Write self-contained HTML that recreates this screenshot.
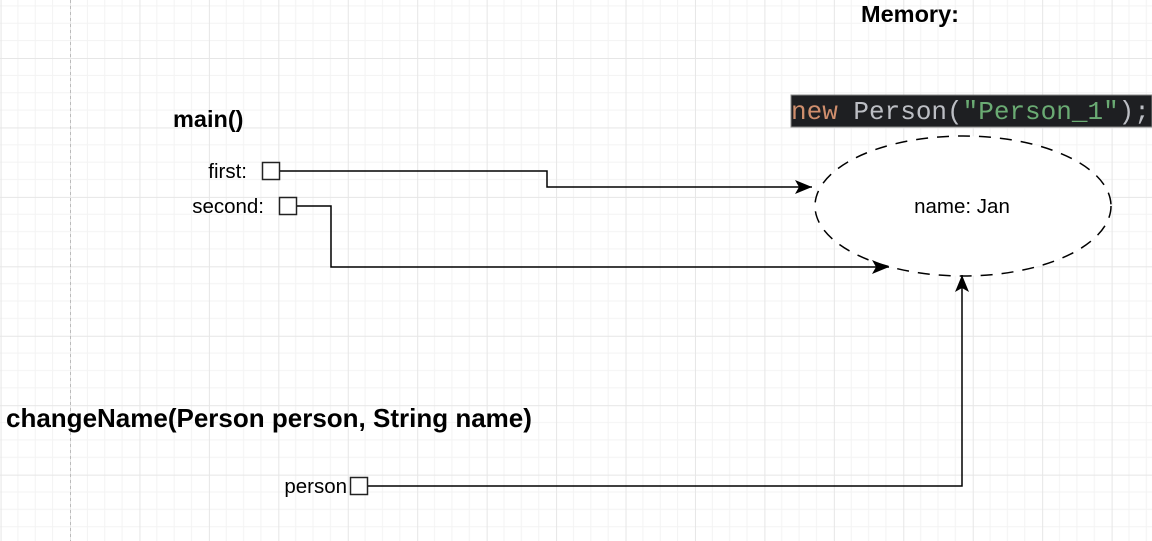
<!DOCTYPE html>
<html><head><style>
html,body{margin:0;padding:0;background:#fff;}
svg{display:block;}
</style></head><body>
<svg width="1152" height="541" viewBox="0 0 1152 541" xmlns="http://www.w3.org/2000/svg">
<defs>
<pattern id="g" x="70" y="58" width="69.44" height="69.44" patternUnits="userSpaceOnUse">
<path d="M17.36 0V69.44M34.72 0V69.44M52.08 0V69.44M0 17.36H69.44M0 34.72H69.44M0 52.08H69.44" stroke="#f3f3f3" stroke-width="1" fill="none"/>
<path d="M0.5 0V69.44M0 0.5H69.44" stroke="#e6e6e6" stroke-width="1" fill="none"/>
</pattern>
<marker id="a" markerWidth="18" markerHeight="14" refX="17" refY="7" orient="auto" markerUnits="userSpaceOnUse">
<path d="M0 0L17 7L0 14L4 7Z" fill="#000"/>
</marker>
</defs>
<rect width="1152" height="541" fill="url(#g)"/>
<line x1="70.5" y1="0" x2="70.5" y2="541" stroke="#bbb" stroke-dasharray="3,3"/>
<rect x="791" y="95" width="361" height="32" fill="#1e1f22" stroke="#888"/>
<text x="791" y="119" font-family="Liberation Mono, monospace" font-size="26" fill="#cf8e6d" xml:space="preserve">new <tspan fill="#bcbec4">Person(</tspan><tspan fill="#6aab73">"Person_1"</tspan><tspan fill="#bcbec4">);</tspan></text>
<ellipse cx="963" cy="206" rx="148" ry="70" fill="#fff" stroke="#000" stroke-width="1.5" stroke-dasharray="12,9"/>
<text x="962" y="213" text-anchor="middle" font-family="Liberation Sans, sans-serif" font-size="20.5">name: Jan</text>
<text x="910" y="22" text-anchor="middle" font-family="Liberation Sans, sans-serif" font-size="23.5" font-weight="bold">Memory:</text>
<text x="173" y="127" font-family="Liberation Sans, sans-serif" font-size="23.5" font-weight="bold">main()</text>
<text x="247" y="178" text-anchor="end" font-family="Liberation Sans, sans-serif" font-size="20.5">first:</text>
<text x="264" y="213" text-anchor="end" font-family="Liberation Sans, sans-serif" font-size="20.5">second:</text>
<text x="6" y="427" font-family="Liberation Sans, sans-serif" font-size="26" font-weight="bold">changeName(Person person, String name)</text>
<text x="347" y="493" text-anchor="end" font-family="Liberation Sans, sans-serif" font-size="20.5">person</text>
<g fill="none" stroke="#000" stroke-width="1.5">
<polyline points="280,171 547,171 547,187 812,187" marker-end="url(#a)"/>
<polyline points="297,206 331,206 331,267 889,267" marker-end="url(#a)"/>
<polyline points="367,486 962,486 962,275" marker-end="url(#a)"/>
</g>
<g fill="#fff" stroke="#222" stroke-width="1.5">
<rect x="262.5" y="162.5" width="17" height="17"/>
<rect x="279.5" y="197.5" width="17" height="17"/>
<rect x="350.5" y="477.5" width="17" height="17"/>
</g>
</svg>
</body></html>
